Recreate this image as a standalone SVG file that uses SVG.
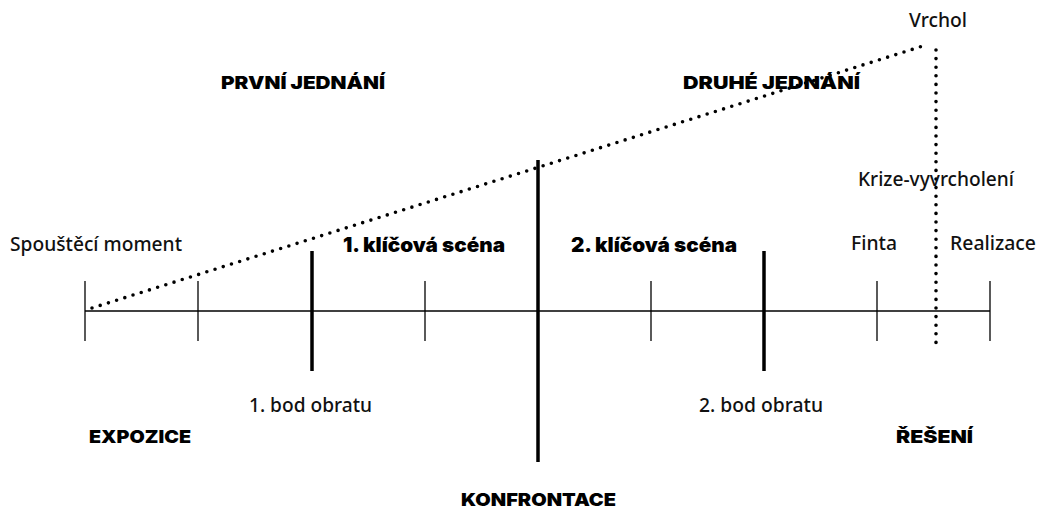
<svg xmlns="http://www.w3.org/2000/svg" width="1040" height="508" viewBox="0 0 1040 508">
  <style>
    .axis { stroke: #000; stroke-width: 1.5; fill: none; }
    .tick { stroke: #000; stroke-width: 1.3; }
    .beat { stroke: #000; stroke-width: 3.5; }
    .dots { stroke: #000; stroke-width: 3.6; stroke-linecap: round; stroke-dasharray: 0 8.6; fill: none; }
    .lbl { font-family: "Noto Sans", "Open Sans", sans-serif; font-size: 19px; font-weight: 500; fill: #111; }
    .act { font-family: Inter, Roboto, "Noto Sans", sans-serif; font-size: 18px; font-weight: 900; fill: #000; }
    .scene { font-family: Inter, Roboto, "Noto Sans", sans-serif; font-size: 20px; font-weight: 900; fill: #000; }
  </style>
  <rect width="1040" height="508" fill="#fff"/>

  <g id="connectors">
    <!-- main timeline -->
    <line class="axis" x1="85" y1="311" x2="990" y2="311"/>
    <!-- thin scene ticks -->
    <line class="tick" x1="85" y1="281" x2="85" y2="341"/>
    <line class="tick" x1="198" y1="281" x2="198" y2="341"/>
    <line class="tick" x1="425" y1="281" x2="425" y2="341"/>
    <line class="tick" x1="651" y1="281" x2="651" y2="341"/>
    <line class="tick" x1="877" y1="281" x2="877" y2="341"/>
    <line class="tick" x1="990" y1="281" x2="990" y2="341"/>
    <!-- plot points -->
    <line class="beat" x1="312" y1="251" x2="312" y2="371"/>
    <line class="beat" x1="764" y1="251" x2="764" y2="371"/>
    <line class="beat" x1="538" y1="160" x2="538" y2="462"/>
    <!-- rising tension and climax drop -->
    <line class="dots" x1="92" y1="308" x2="923" y2="46"/>
    <line class="dots" x1="936" y1="50" x2="936" y2="343"/>
  </g>

  <g id="act-labels">
    <text class="act" x="221" y="89" textLength="164" lengthAdjust="spacingAndGlyphs">PRVNÍ JEDNÁNÍ</text>
    <text class="act" x="683" y="89" textLength="177" lengthAdjust="spacingAndGlyphs">DRUHÉ JEDNÁNÍ</text>
    <text class="act" x="89" y="443" textLength="102" lengthAdjust="spacingAndGlyphs">EXPOZICE</text>
    <text class="act" x="461" y="506" textLength="155" lengthAdjust="spacingAndGlyphs">KONFRONTACE</text>
    <text class="act" x="896" y="443" textLength="77" lengthAdjust="spacingAndGlyphs">ŘEŠENÍ</text>
  </g>

  <g id="scene-labels">
    <text class="scene" x="343" y="252" textLength="162" lengthAdjust="spacingAndGlyphs">1. klíčová scéna</text>
    <text class="scene" x="571" y="252" textLength="166" lengthAdjust="spacingAndGlyphs">2. klíčová scéna</text>
  </g>

  <g id="point-labels">
    <text class="lbl" x="909" y="27" textLength="58" lengthAdjust="spacingAndGlyphs">Vrchol</text>
    <text class="lbl" x="858" y="186" textLength="156" lengthAdjust="spacingAndGlyphs">Krize-vyvrcholení</text>
    <text class="lbl" x="10" y="251" textLength="172" lengthAdjust="spacingAndGlyphs">Spouštěcí moment</text>
    <text class="lbl" x="851" y="250" textLength="46" lengthAdjust="spacingAndGlyphs">Finta</text>
    <text class="lbl" x="950" y="250" textLength="86" lengthAdjust="spacingAndGlyphs">Realizace</text>
    <text class="lbl" x="249" y="412" textLength="123" lengthAdjust="spacingAndGlyphs">1. bod obratu</text>
    <text class="lbl" x="699" y="412" textLength="124" lengthAdjust="spacingAndGlyphs">2. bod obratu</text>
  </g>
</svg>
